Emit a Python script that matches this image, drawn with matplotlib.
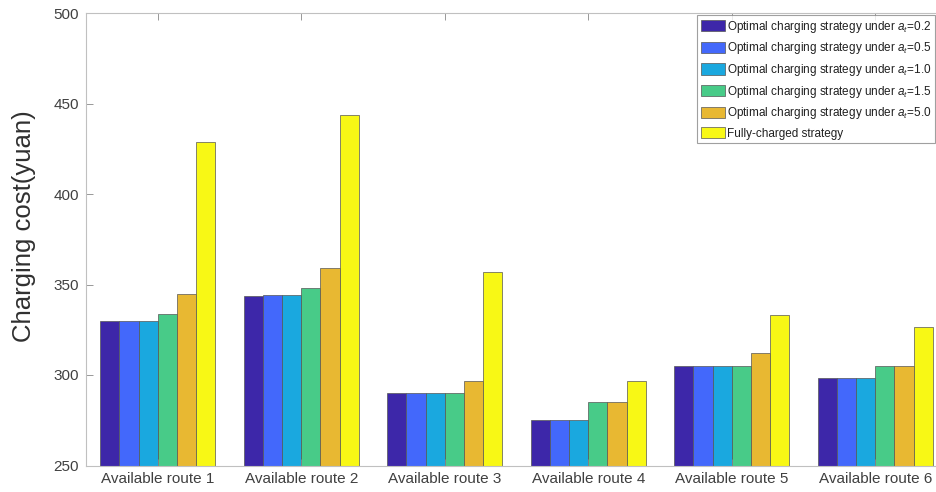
import numpy as np
import matplotlib
matplotlib.use('Agg')
import matplotlib.pyplot as plt

plt.rcParams['font.family'] = ['Liberation Sans', 'DejaVu Sans']
plt.rcParams['mathtext.fontset'] = 'custom'
plt.rcParams['mathtext.rm'] = 'Liberation Sans'
plt.rcParams['mathtext.it'] = 'Liberation Sans:italic'

# data
routes = ['Available route 1', 'Available route 2', 'Available route 3',
          'Available route 4', 'Available route 5', 'Available route 6']
at_02 = [329.6, 343.8, 290.0, 275.1, 304.9, 298.6]
at_05 = [330.0, 344.0, 290.0, 275.1, 304.9, 298.6]
at_10 = [330.0, 344.0, 290.0, 275.1, 304.9, 298.6]
at_15 = [333.8, 348.0, 290.0, 284.9, 304.9, 304.9]
at_50 = [344.7, 359.1, 296.8, 284.9, 311.9, 304.9]
full = [428.8, 443.4, 357.0, 296.6, 333.1, 326.3]

series = [at_02, at_05, at_10, at_15, at_50, full]
labels = ['Optimal charging strategy under $a_t$=0.2',
          'Optimal charging strategy under $a_t$=0.5',
          'Optimal charging strategy under $a_t$=1.0',
          'Optimal charging strategy under $a_t$=1.5',
          'Optimal charging strategy under $a_t$=5.0',
          'Fully-charged strategy']
colors = ['#3D27A9', '#4368FB', '#1AA8DF', '#48CB88', '#E8B832', '#F8F815']

fig = plt.figure(figsize=(9.37, 4.92), dpi=100)
ax = fig.add_axes([86/937, 26.5/492, 861/937, 452.5/492])

x = np.arange(1, len(routes) + 1)
w = 0.8 / len(series)
for i, (vals, lab, c) in enumerate(zip(series, labels, colors)):
    off = (i - (len(series) - 1) / 2) * w
    ax.bar(x + off, vals, width=w, color=c, edgecolor='#555555', linewidth=0.5, label=lab)

ax.set_xlim(0.5, 6.5)
ax.set_ylim(250, 500)
ax.set_yticks([250, 300, 350, 400, 450, 500])
ax.set_xticks(x)
ax.set_xticklabels(routes)
ax.tick_params(direction='in', length=5, width=0.6, color='#888888', labelsize=11,
               labelcolor='#404040', top=True, right=True, pad=5)
for s in ax.spines.values():
    s.set_color('#c0c0c0')
    s.set_linewidth(0.8)
ax.set_ylabel('Charging cost(yuan)', fontsize=18.5, color='#303030')
ax.yaxis.set_label_coords(-0.058, 0.53)

leg = ax.legend(loc='upper left', bbox_to_anchor=(697/937, 1 - 15/492),
                bbox_transform=fig.transFigure, fontsize=8.5, frameon=True,
                fancybox=False, handlelength=2.1, handleheight=1.1,
                handletextpad=0.15, labelspacing=0.48, borderpad=0.3,
                borderaxespad=0)
leg.get_frame().set_edgecolor('#888888')
leg.get_frame().set_linewidth(0.8)
for t in leg.get_texts():
    t.set_color('#202020')

fig.savefig('out.png', dpi=100)
